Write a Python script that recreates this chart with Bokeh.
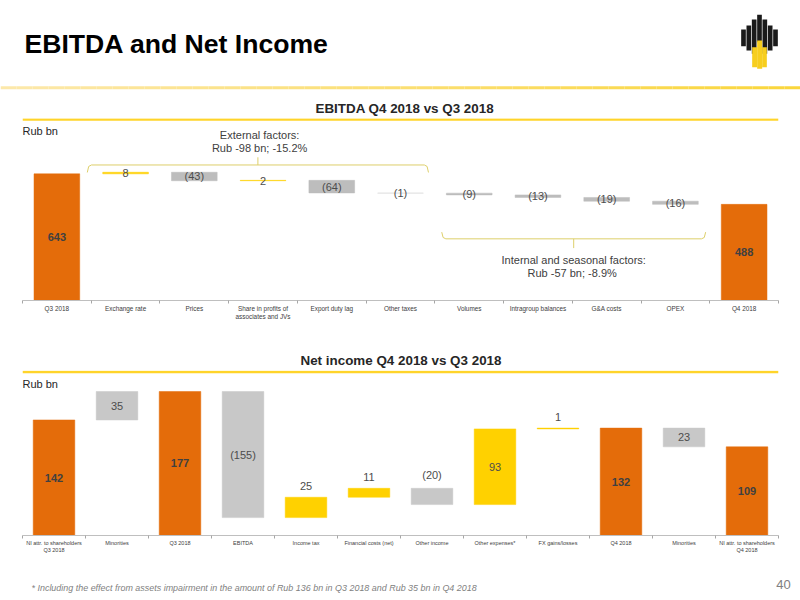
from bokeh.plotting import figure
from bokeh.layouts import column
from bokeh.core.properties import value
from bokeh.models import FixedTicker, Label, Span, Title, Range1d
from bokeh.embed import file_html
from bokeh.resources import INLINE

FONT = "Liberation Sans"
ORANGE, YELLOW, GREY1, GREY2, PALE = "#E46C0A", "#FFD100", "#BDBDBD", "#C8C8C8", "#DDDDDD"
TEXT = "#404040"

# ---------- data ----------
ebitda_categories = ["Q3 2018", "Exchange rate", "Prices", "Share in profits of\nassociates and JVs",
                     "Export duty lag", "Other taxes", "Volumes", "Intragroup balances",
                     "G&A costs", "OPEX", "Q4 2018"]
ebitda_values = [643, 8, -43, 2, -64, -1, -9, -13, -19, -16, 488]
ebitda_labels = ["643", "8", "(43)", "2", "(64)", "(1)", "(9)", "(13)", "(19)", "(16)", "488"]
ebitda_totals = [0, 10]

ni_categories = ["NI attr. to shareholders\nQ3 2018", "Minorities", "Q3 2018", "EBITDA", "Income tax",
                 "Financial costs (net)", "Other income", "Other expenses*", "FX gains/losses",
                 "Q4 2018", "Minorities", "NI attr. to shareholders\nQ4 2018"]
ni_values = [142, 35, 177, -155, 25, 11, -20, 93, 1, 132, -23, 109]
ni_labels = ["142", "35", "177", "(155)", "25", "11", "(20)", "93", "1", "132", "23", "109"]
ni_totals = [0, 2, 9, 11]
ni_grey = [1, 3, 6, 10]
ni_label_above = [4, 5, 6, 8]


def waterfall(values, totals):
    bottoms, tops, level = [], [], 0
    for i, v in enumerate(values):
        if i in totals:
            bottoms.append(0); tops.append(v); level = v
        else:
            bottoms.append(min(level, level + v)); tops.append(max(level, level + v)); level += v
    return bottoms, tops


def panel(title, title_offset, categories, values, labels, totals, colors, ymax, height, top, bottom,
          width, rule_y, rub_y, tick_px, above=()):
    n = len(categories)
    p = figure(width=800, height=height, output_backend="svg", toolbar_location=None,
               x_range=Range1d(-0.5, n - 0.5), y_range=Range1d(0, ymax),
               min_border_left=22, min_border_right=22, min_border_top=top, min_border_bottom=bottom)
    p.title = Title(text=title, align="left", offset=title_offset, text_font=FONT, text_font_size="13.4px",
                    text_font_style="bold", text_color="#262626", standoff=6)
    p.outline_line_color = None
    p.grid.visible = False
    p.yaxis.visible = False
    ax = p.xaxis[0]
    ax.ticker = FixedTicker(ticks=list(range(n)), minor_ticks=[i - 0.5 for i in range(n + 1)])
    ax.major_label_overrides = {i: c for i, c in enumerate(categories)}
    ax.major_tick_line_color = None
    ax.major_tick_out = 0
    ax.major_tick_in = 0
    ax.minor_tick_out = 3
    ax.minor_tick_in = 0
    ax.minor_tick_line_color = "#A6A6A6"
    ax.axis_line_color = "#BFBFBF"
    ax.axis_line_width = 1.2
    ax.major_label_text_font = FONT
    ax.major_label_text_font_size = tick_px
    ax.major_label_text_color = TEXT
    ax.major_label_standoff = 1

    bottoms, tops = waterfall(values, totals)
    p.vbar(x=list(range(n)), bottom=bottoms, top=tops, width=width,
           fill_color=colors, line_color=colors, line_width=0.5)

    for i in range(n):
        is_above = i in above
        y = tops[i] if is_above else (bottoms[i] + tops[i]) / 2
        bold = i in totals
        p.text([i], [y], text=[labels[i]], text_font=value(FONT), text_font_size="11px",
               text_font_style="bold" if bold else "normal",
               text_color="#404040" if bold else "#4D4D4D", text_align="center",
               text_baseline="bottom" if is_above else "middle", y_offset=-7 if is_above else 0)

    p.add_layout(Span(location=rule_y, dimension="width", line_color="#FFD42A", line_width=2.6))
    p.add_layout(Label(x=-0.5, y=rub_y, text="Rub bn", text_font=FONT, text_font_size="11px",
                       text_color="#262626", text_baseline="middle"))
    return p


def strip(height, y0, y1):
    f = figure(width=800, height=height, output_backend="svg", toolbar_location=None,
               x_range=Range1d(0, 800), y_range=Range1d(y1, y0),
               min_border_left=0, min_border_right=0, min_border_top=0, min_border_bottom=0)
    f.axis.visible = False
    f.grid.visible = False
    f.outline_line_color = None
    return f


# ---------- header ----------
head = strip(95, 0, 95)
head.add_layout(Label(x=24, y=43, text="EBITDA and Net Income", text_font=FONT, text_font_size="26.6px",
                      text_font_style="bold", text_color="#000000", text_baseline="middle"))
# gradient rule
steps = 50
lefts = [i * 800 / steps for i in range(steps)]
rights = [(i + 1) * 800 / steps for i in range(steps)]
def mix(t):
    a, b = (252, 232, 170), (250, 214, 60)
    return "#%02X%02X%02X" % tuple(round(a[k] + (b[k] - a[k]) * t) for k in range(3))
head.quad(left=lefts, right=rights, top=[85.8] * steps, bottom=[88.8] * steps,
          fill_color=[mix(i / (steps - 1)) for i in range(steps)], line_color=None)
# logo (pixels of the mark in a 3x crop with origin 730,5)
def lx(u): return 730 + u / 3
def ly(v): return 5 + v / 3
black = [(32, 46, 72, 122), (48, 62, 60, 135), (64, 78, 42, 145), (80, 94, 28, 110),
         (96, 110, 42, 145), (112, 126, 60, 135), (128, 142, 72, 122)]
head.quad(left=[lx(b[0]) for b in black], right=[lx(b[1]) for b in black],
          top=[ly(b[2]) for b in black], bottom=[ly(b[3]) for b in black],
          fill_color="#1A1A1A", line_color=None)
gold = [(65, 80, 125, 185), (80, 95, 105, 190), (95, 109, 125, 185)]
head.quad(left=[lx(b[0]) for b in gold], right=[lx(b[1]) for b in gold],
          top=[ly(b[2]) for b in gold], bottom=[ly(b[3]) for b in gold],
          fill_color="#F7CE1E", line_color=None)

# ---------- EBITDA panel ----------
col1 = []
for i, v in enumerate(ebitda_values):
    if i in ebitda_totals: col1.append(ORANGE)
    elif ebitda_categories[i] == "Other taxes": col1.append(PALE)
    elif v > 0: col1.append(YELLOW)
    else: col1.append(GREY1)
p1 = panel("EBITDA Q4 2018 vs Q3 2018", 293, ebitda_categories, ebitda_values, ebitda_labels, ebitda_totals,
           col1, 923.9, 250, 23, 45, 0.665, 919, 860, "6.4px")


def bracket(p, x0, x1, yedge, yline, ytip):
    xm = (x0 + x1) / 2
    p.line([x0, x0 + 0.02, x0 + 0.06, x1 - 0.06, x1 - 0.02, x1],
           [yedge, yline - (yline - yedge) * 0.2, yline, yline, yline - (yline - yedge) * 0.2, yedge],
           line_color="#DDCF6A", line_width=1)
    p.line([xm, xm], [yline, ytip], line_color="#DDCF6A", line_width=1)


bracket(p1, 0.443, 5.407, 650, 688, 727)
bracket(p1, 5.6, 9.44, 347, 313, 266)
for x, y, t in ((2.95, 842, "External factors:"), (2.95, 773, "Rub -98 bn; -15.2%"),
                (7.52, 205, "Internal and seasonal factors:"), (7.52, 139, "Rub -57  bn; -8.9%")):
    p1.add_layout(Label(x=x, y=y, text=t, text_font=FONT, text_font_size="11px", text_color=TEXT,
                        text_align="center", text_baseline="middle"))

# ---------- Net income panel ----------
col2 = [ORANGE if i in ni_totals else GREY2 if i in ni_grey else YELLOW for i in range(len(ni_values))]
p2 = panel("Net income Q4 2018 vs Q3 2018", 278, ni_categories, ni_values, ni_labels, ni_totals,
           col2, 202.8, 230, 25, 40, 0.66, 201, 186, "5.5px", above=ni_label_above)

# ---------- footer ----------
foot = strip(25, 575, 600)
foot.add_layout(Label(x=31, y=587, text="* Including the effect from assets impairment in the amount of "
                      "Rub 136 bn in Q3 2018 and Rub 35 bn in Q4 2018",
                      text_font=FONT, text_font_size="8.95px", text_font_style="italic", text_color="#7F7F7F",
                      text_baseline="middle"))
foot.add_layout(Label(x=783, y=584, text="40", text_font=FONT, text_font_size="13px", text_color="#808080",
                      text_baseline="middle", text_align="center"))

page = column(column(head), column(p1, p2), column(foot), spacing=0)
open("out.html", "w").write(file_html(page, INLINE))
